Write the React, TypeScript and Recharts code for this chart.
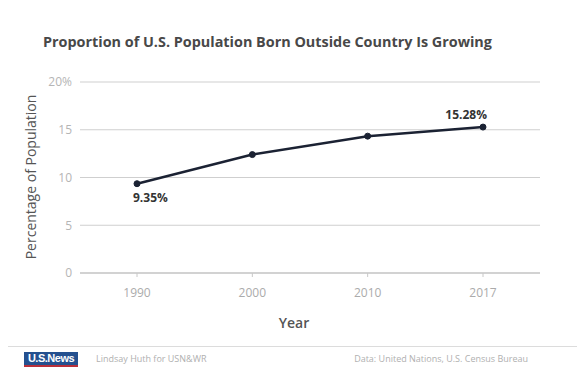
import { LineChart, Line, XAxis, YAxis, CartesianGrid } from 'recharts'

const years = ['1990', '2000', '2010', '2017']
const shares = [9.35, 12.4, 14.33, 15.28]
const yTicks = [0, 5, 10, 15, 20]
const pointLabels = ['9.35%', '', '', '15.28%']

const data = years.map((year, i) => ({ year, share: shares[i] }))

const font = '"Open Sans", "Noto Sans", sans-serif'

function PointLabel(props: any) {
  const { x, y, index } = props
  const text = pointLabels[index]
  if (!text) return null
  const above = index === years.length - 1
  return (
    <text
      x={above ? x + 4 : x - 4}
      y={above ? y - 8 : y + 18}
      textAnchor={above ? 'end' : 'start'}
      fontSize={12}
      fontWeight={700}
      fill="#333"
      fontFamily={font}
    >
      {text}
    </text>
  )
}

export default function App() {
  return (
    <div style={{ position: 'relative', width: 585, height: 379, margin: -8, background: '#fff', fontFamily: font, overflow: 'hidden' }}>
      {/* frame */}
      <div style={{ position: 'absolute', left: 3, top: 1, width: 575, height: 375, border: '1px solid #dcdcdc' }} />
      <div style={{ position: 'absolute', left: 4, top: 346, width: 574, height: 1, background: '#dcdcdc' }} />

      <div style={{ position: 'absolute', left: 43, top: 32, fontSize: 14.4, fontWeight: 700, color: '#484848', whiteSpace: 'nowrap' }}>
        Proportion of U.S. Population Born Outside Country Is Growing
      </div>

      <LineChart width={585} height={379} data={data} margin={{ top: 82, right: 45, bottom: 76, left: 0 }}
        style={{ position: 'absolute', left: 0, top: 0 }}>
        <CartesianGrid stroke="#cfcfcf" vertical={false} />
        <XAxis dataKey="year" height={30} padding={{ left: 57, right: 57 }} axisLine={{ stroke: '#bdbdbd' }}
          tickLine={{ stroke: '#c8c8c8' }} tickSize={4} tickMargin={11}
          tick={{ fill: '#ababab', fontSize: 12, fontFamily: font }} />
        <YAxis width={80} domain={[0, 20]} ticks={yTicks} axisLine={false} tickLine={false} tickSize={0} tickMargin={8}
          tick={{ fill: '#b5b5b5', fontSize: 12, fontFamily: font }}
          tickFormatter={(v: number) => (v === 20 ? '20%' : String(v))} />
        <Line dataKey="share" stroke="#1b2233" strokeWidth={2.5} isAnimationActive={false}
          dot={{ r: 3, fill: '#1b2233', stroke: '#1b2233', strokeWidth: 1 }} label={<PointLabel />} />
      </LineChart>

      <div style={{ position: 'absolute', left: 30, top: 177, transform: 'translate(-50%, -50%) rotate(-90deg)', fontSize: 14, color: '#555', whiteSpace: 'nowrap' }}>
        Percentage of Population
      </div>
      <div style={{ position: 'absolute', left: 294, top: 322, transform: 'translate(-50%, -50%)', fontSize: 14, fontWeight: 600, color: '#555' }}>
        Year
      </div>

      {/* footer */}
      <div style={{ position: 'absolute', left: 24, top: 352, width: 54, height: 13, background: '#24508f', color: '#fff', fontSize: 11, fontWeight: 700, lineHeight: '13px', textAlign: 'center', fontFamily: 'Arial, "Liberation Sans", sans-serif', letterSpacing: -0.5 }}>
        U.S.News
      </div>
      <div style={{ position: 'absolute', left: 24, top: 365, width: 54, height: 2, background: '#b8303a' }} />
      <div style={{ position: 'absolute', left: 96, top: 352, fontSize: 9, color: '#b0b0b0', lineHeight: '14px', whiteSpace: 'nowrap' }}>
        Lindsay Huth for USN&amp;WR
      </div>
      <div style={{ position: 'absolute', right: 57, top: 352, fontSize: 9, color: '#b0b0b0', lineHeight: '14px', whiteSpace: 'nowrap' }}>
        Data: United Nations, U.S. Census Bureau
      </div>
    </div>
  )
}
